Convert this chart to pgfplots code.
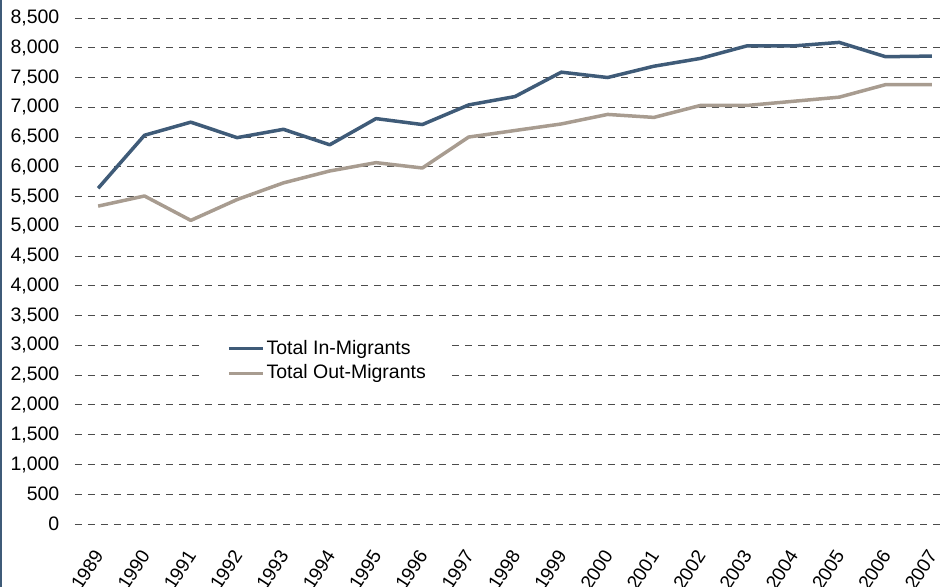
\documentclass[border=0pt]{standalone}
\usepackage{pgfplots}
\pgfplotsset{compat=1.18}
\usepackage{fontspec}
\setmainfont{Liberation Sans}
\definecolor{inmig}{HTML}{3F5B78}
\definecolor{outmig}{HTML}{A89C90}
\begin{document}
\fontsize{19.5pt}{23pt}\selectfont
\begin{tikzpicture}
\begin{axis}[
  scale only axis,
  width=867pt, height=506pt,
  xmin=1988.5, xmax=2007.22,
  ymin=0, ymax=8500,
  axis line style={draw=none},
  tick style={draw=none},
  xtick={1989,...,2007},
  ytick={0,500,...,8500},
  ymajorgrids,
  grid style={black!70, line width=0.9pt, dash pattern=on 6.7pt off 6.3pt},
  /pgf/number format/assume math mode=true,
  /pgf/number format/1000 sep={,},
  yticklabel style={font=\fontsize{19.5pt}{23pt}\selectfont, xshift=-9pt},
  xticklabel style={font=\fontsize{19pt}{23pt}\selectfont, yshift=-15pt, xshift=-7pt, rotate=57, anchor=north east},
  xticklabel={\pgfmathprintnumber[1000 sep=,precision=0,fixed]{\tick}},
  legend style={at={(axis cs:1991.26,2738)}, anchor=west, draw=none, fill=white,
     font=\fontsize{19.5pt}{23pt}\selectfont, row sep=3.5pt, inner xsep=24pt, inner ysep=4pt, cells={anchor=west}},
  legend image code/.code={\draw[#1, line width=3.5pt] (0pt,0pt) -- (34pt,0pt);},
  every axis plot/.append style={line width=3.5pt, line join=round},
]
\addplot[inmig] coordinates {
(1989,5640) (1990,6530) (1991,6750) (1992,6490) (1993,6630) (1994,6370)
(1995,6810) (1996,6710) (1997,7040) (1998,7180) (1999,7590) (2000,7500)
(2001,7690) (2002,7820) (2003,8030) (2004,8030) (2005,8090) (2006,7850) (2007,7860)};
\addlegendentry{Total In-Migrants}
\addplot[outmig] coordinates {
(1989,5340) (1990,5510) (1991,5100) (1992,5450) (1993,5730) (1994,5930)
(1995,6070) (1996,5980) (1997,6500) (1998,6610) (1999,6720) (2000,6880)
(2001,6830) (2002,7030) (2003,7030) (2004,7100) (2005,7170) (2006,7380) (2007,7380)};
\addlegendentry{Total Out-Migrants}
\end{axis}
\pgfresetboundingbox
\path ([xshift=-75pt,yshift=-63pt]current axis.south west) rectangle ([yshift=18pt]current axis.north east);
\fill[inmig] ([xshift=-75pt,yshift=-63pt]current axis.south west) rectangle ([xshift=-73pt,yshift=18pt]current axis.north west);
\end{tikzpicture}
\end{document}
